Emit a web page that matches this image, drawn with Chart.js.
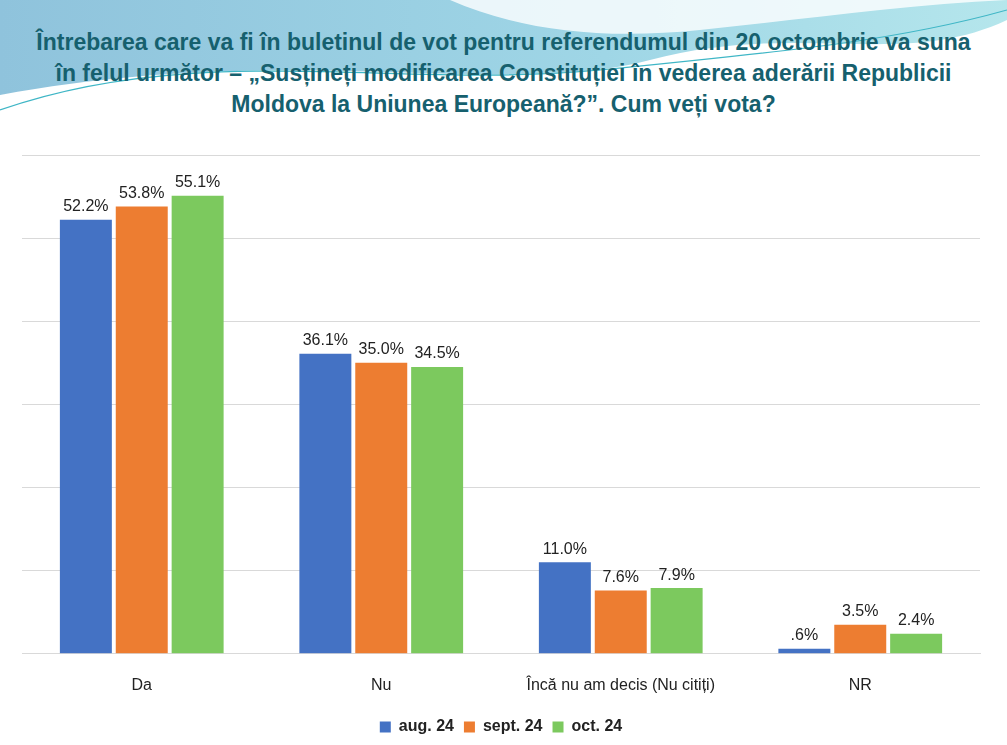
<!DOCTYPE html><html><head><meta charset="utf-8">
<script src="https://cdn.jsdelivr.net/npm/chart.js@4"></script>
<style>
body{margin:0;width:1007px;height:745px;overflow:hidden;background:#fff;font-family:"Liberation Sans Narrow","Liberation Sans",sans-serif;position:relative}
#bg{position:absolute;left:0;top:0}
#title{position:absolute;top:27px;left:0;width:1007px;text-align:center;color:#16606e;font-weight:bold;font-size:23px;line-height:31px}
#wrap{position:absolute;left:0;top:140px;width:1007px;height:605px}
</style></head><body>
<svg id="bg" width="1007" height="140">
<defs><linearGradient id="g" x1="0" x2="1"><stop offset="0" stop-color="#8fc3dc"/><stop offset="0.6" stop-color="#9fd6e6"/><stop offset="1" stop-color="#b5e6ec"/></linearGradient></defs>
<path d="M0,0 H1007 V20 C900,70 800,20 650,60 C500,100 300,40 0,95 Z" fill="url(#g)"/>
<path d="M450,0 C520,30 600,40 700,30 C800,20 900,5 1007,0 Z" fill="#fff" opacity="0.8"/>
<path d="M0,110 C200,40 400,90 600,70 C800,50 900,40 1007,10" stroke="#3fb6c6" stroke-width="1.2" fill="none"/>
</svg>
<div id="title">Întrebarea care va fi în buletinul de vot pentru referendumul din 20 octombrie va suna<br>în felul următor – „Susțineți modificarea Constituției în vederea aderării Republicii<br>Moldova la Uniunea Europeană?”. Cum veți vota?</div>
<div id="wrap"><canvas id="c"></canvas></div>
<script>
const categories=["Da","Nu","Încă nu am decis (Nu citiți)","NR"];
const seriesNames=["aug. 24","sept. 24","oct. 24"];
const aug=[52.2,36.1,11.0,0.6];
const sept=[53.8,35.0,7.6,3.5];
const oct=[55.1,34.5,7.9,2.4];
const colors=["#4472C4","#ED7D31","#7CC95E"];
const fmt=v=>(v<1?String(v.toFixed(1)).replace(/^0/,''):v.toFixed(1))+"%";
const labels={id:'lbl',afterDatasetsDraw(ch){const x=ch.ctx;x.save();x.font='16px "Liberation Sans", sans-serif';x.fillStyle='#222';x.textAlign='center';x.textBaseline='bottom';
ch.data.datasets.forEach((d,i)=>ch.getDatasetMeta(i).data.forEach((b,j)=>x.fillText(fmt(d.data[j]),b.x,b.y-5)));x.restore();}};
new Chart(document.getElementById('c'),{type:'bar',
data:{labels:categories,datasets:[aug,sept,oct].map((d,i)=>({label:seriesNames[i],data:d,backgroundColor:colors[i]}))},
options:{responsive:true,maintainAspectRatio:false,animation:false,
layout:{padding:{left:22,right:27,top:15,bottom:0}},
datasets:{bar:{categoryPercentage:0.7,barPercentage:0.93}},
scales:{y:{min:0,max:60,ticks:{display:false,stepSize:10},border:{display:false},grid:{color:'#d9d9d9',drawTicks:false}},
x:{grid:{display:false},border:{color:'#d9d9d9'},ticks:{color:'#222',font:{size:16,family:'"Liberation Sans", sans-serif'},padding:14}}},
plugins:{legend:{position:'bottom',labels:{boxWidth:11,boxHeight:11,color:'#222',padding:10,font:{size:16,weight:'bold',family:'"Liberation Sans", sans-serif'}}},tooltip:{enabled:false}}},
plugins:[labels]});
</script></body></html>
